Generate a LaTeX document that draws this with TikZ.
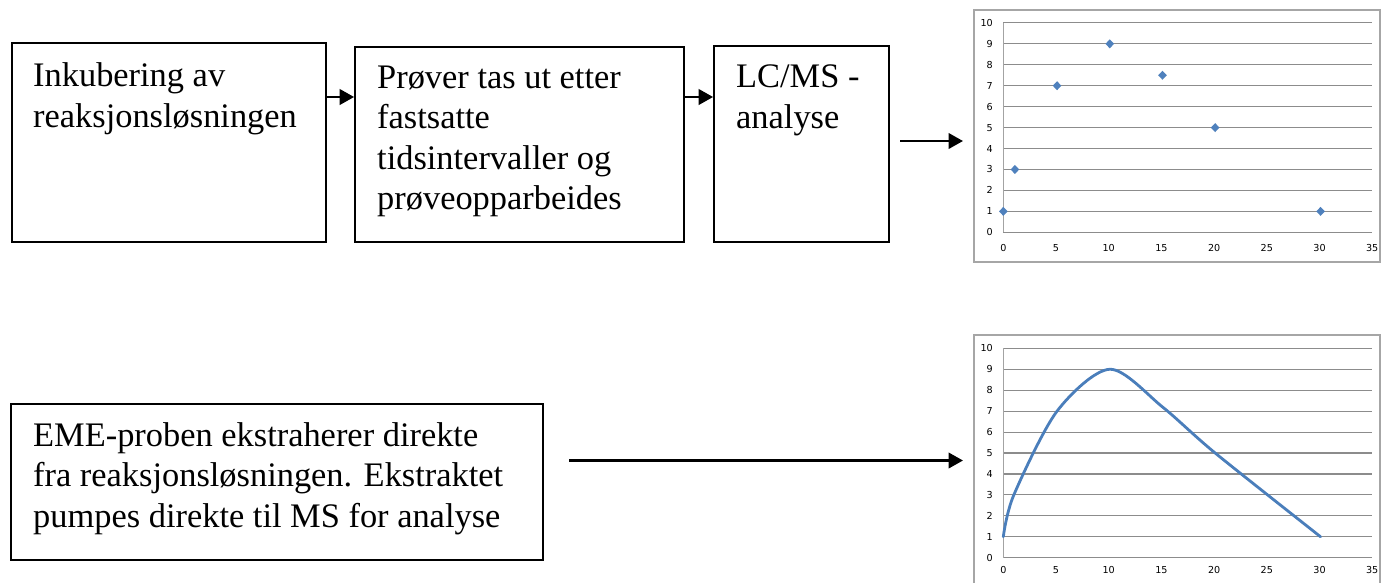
\documentclass[tikz,border=0pt]{standalone}
\usepackage{fontspec}
\setmainfont{Liberation Serif}
\newfontfamily\chartfont{DejaVu Sans}
\usetikzlibrary{arrows.meta,calc}

\definecolor{seriesblue}{HTML}{4F81BD}
\definecolor{curveblue}{HTML}{4A7EBB}
\definecolor{gridgray}{HTML}{8C8C8C}
\definecolor{framegray}{HTML}{A6A6A6}

\begin{document}
\begin{tikzpicture}[x=1pt,y=-1pt,
  stepbox/.style={draw=black, line width=1.8pt, rectangle, inner sep=0pt},
  boxtext/.style={anchor=north west, inner sep=0pt, align=left,
    font=\fontsize{34.4}{40.4}\selectfont},
  flow/.style={line width=2.6pt, -{Triangle[length=14.5pt,width=15.5pt]}},
  chartframe/.style={draw=framegray, line width=1.1pt},
  gridline/.style={draw=gridgray, line width=1.1pt},
  axisline/.style={draw=gridgray!80, line width=1.1pt},
  ylab/.style={anchor=east, inner sep=0pt, font=\chartfont\fontsize{9.6}{10}\selectfont},
  xlab/.style={anchor=center, inner sep=0pt, font=\chartfont\fontsize{9.6}{10}\selectfont},
  curveline/.style={draw=curveblue, line width=2.8pt, line cap=round, line join=round}
]
\useasboundingbox (0,0) rectangle (1381,582);
\fill[white] (0,0) rectangle (1381,582);

% ---------- process boxes ----------
\node[stepbox, minimum width=314pt, minimum height=199pt] (b1) at (169,142.5) {};
\node[stepbox, minimum width=329pt, minimum height=195pt] (b2) at (519.5,144.5) {};
\node[stepbox, minimum width=175pt, minimum height=196pt] (b3) at (801.5,144) {};
\node[stepbox, minimum width=532pt, minimum height=156pt] (b4) at (277,482) {};

% text: first baseline sits 30pt below the strut top
\node[boxtext] (t1) at (33,56.7) {\rule{0pt}{30pt}Inkubering av\\reaksjonsløsningen};
\node[boxtext] (t2) at (377,58) {\rule{0pt}{30pt}Prøver tas ut etter\\fastsatte\\tidsintervaller og\\prøveopparbeides};
\node[boxtext] (t3) at (736,57.5) {\rule{0pt}{30pt}LC/MS -\\analyse};
\node[boxtext] (t4) at (33,416) {\rule{0pt}{30pt}EME-proben ekstraherer direkte\\fra reaksjonsløsningen. Ekstraktet\\pumpes direkte til MS for analyse};

% ---------- connectors ----------
\coordinate (row1) at (0,97);
\draw[flow] (b1.east |- row1) -- (b2.west |- row1);
\draw[flow] (b2.east |- row1) -- (b3.west |- row1);
\coordinate (a3s) at (900,141);
\coordinate (a3e) at (963,141);
\draw[flow] (a3s) -- (a3e);
\coordinate (a4s) at (569,460.5);
\coordinate (a4e) at (963,460.5);
\draw[flow] (a4s) -- (a4e);

% ---------- chart 1: scatter ----------
\draw[chartframe] (974,10) rectangle (1380,262);
\begin{scope}[shift={(1003.3,232.3)}, x=10.54pt, y=20.94pt]
  \foreach \v in {0,...,10} {
    \draw[gridline] (0,\v) -- (35,\v);
    \node[ylab] (ya\v) at ([xshift=-10.3pt]0,\v) {\v};
  }
  \draw[axisline] (0,0) -- (0,10);
  \foreach \v in {0,5,...,35}
    \node[xlab] (xa\v) at ([yshift=-15.4pt]\v,0) {\v};
  \foreach \px/\py in {0/1,1.1/3,5.1/7,10.1/9,15.1/7.5,20.1/5,30.1/1}
    \fill[seriesblue] (\px,\py) +(4.3pt,0) -- +(0,4.5pt) -- +(-4.3pt,0) -- +(0,-4.5pt) -- cycle;
\end{scope}

% ---------- chart 2: continuous curve ----------
\draw[chartframe] (974,590) -- (974,335) -- (1380,335) -- (1380,590);
\begin{scope}[shift={(1003.3,557.7)}, x=10.54pt, y=20.94pt]
  \foreach \v in {0,...,10} {
    \draw[gridline] (0,\v) -- (35,\v);
    \node[ylab] (yb\v) at ([xshift=-10.3pt]0,\v) {\v};
  }
  \draw[axisline] (0,0) -- (0,10);
  \foreach \v in {0,5,...,35}
    \node[xlab] (xb\v) at ([yshift=-12.5pt]\v,0) {\v};
  \draw[curveline] plot[smooth, tension=0.5] coordinates
    {(0,1) (1,3) (5.1,7) (10.1,9) (15.1,7.2) (20.1,5) (30.1,1)};
\end{scope}
\end{tikzpicture}
\end{document}
